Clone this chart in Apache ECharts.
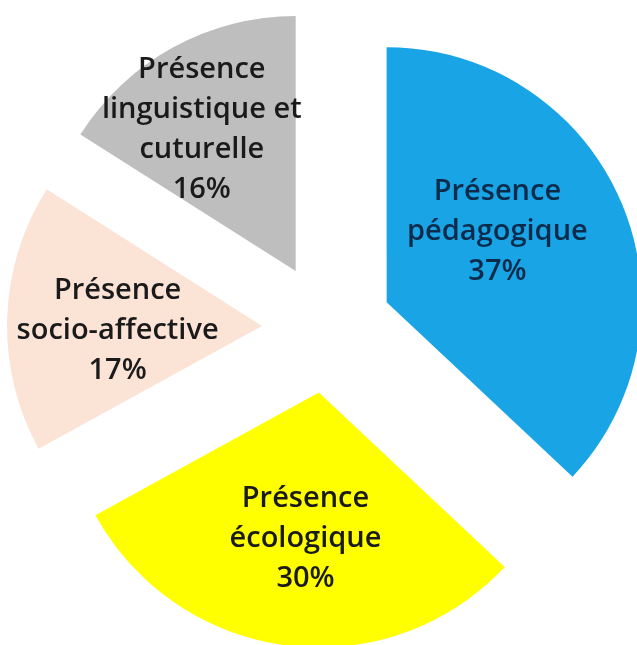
<!DOCTYPE html>
<html>
<head>
<meta charset="utf-8">
<script src="https://cdn.jsdelivr.net/npm/echarts@6/dist/echarts.min.js"></script>
<style>
  html, body { margin: 0; padding: 0; background: #fff; }
  #chart { width: 637px; height: 645px; }
</style>
</head>
<body>
<div id="chart"></div>
<script>
const categories = [
  'Présence\npédagogique',
  'Présence\nécologique',
  'Présence\nsocio-affective',
  'Présence\nlinguistique et\ncuturelle'
];
const values = [37, 30, 17, 16];

const sliceColors = ['#19a4e6', '#ffff00', '#fbe4d6', '#bebebe'];
const textColors = ['#0c2b4b', '#1a1a1a', '#1a1a1a', '#1a1a1a'];
// small label nudges so the text sits where the original had it
const labelNudge = [[-9, -19], [3, 17], [-14, 9], [-31, -27]];

const chart = echarts.init(document.getElementById('chart'));

const option = {
  animation: false,
  series: [
    {
      type: 'pie',
      center: [327, 328],
      radius: [0, 255],
      startAngle: 90,
      clockwise: true,
      selectedMode: 'multiple',
      selectedOffset: 65,
      avoidLabelOverlap: false,
      silent: true,
      emphasis: { disabled: true },
      select: { itemStyle: { borderWidth: 0 } },
      label: {
        show: true,
        position: 'inside',
        fontFamily: 'Open Sans',
        fontWeight: 600,
        fontSize: 29,
        lineHeight: 40,
        align: 'center',
        formatter: (p) => `${p.name}\n${Math.round(p.percent)}%`,
      },
      labelLine: { show: false },
      labelLayout: (params) => ({
        dx: labelNudge[params.dataIndex][0],
        dy: labelNudge[params.dataIndex][1],
        hideOverlap: false,
      }),
      data: categories.map((name, i) => ({
        name,
        value: values[i],
        selected: true,
        itemStyle: { color: sliceColors[i], borderWidth: 0 },
        label: { color: textColors[i] },
      })),
    },
  ],
};

chart.setOption(option);
</script>
</body>
</html>
